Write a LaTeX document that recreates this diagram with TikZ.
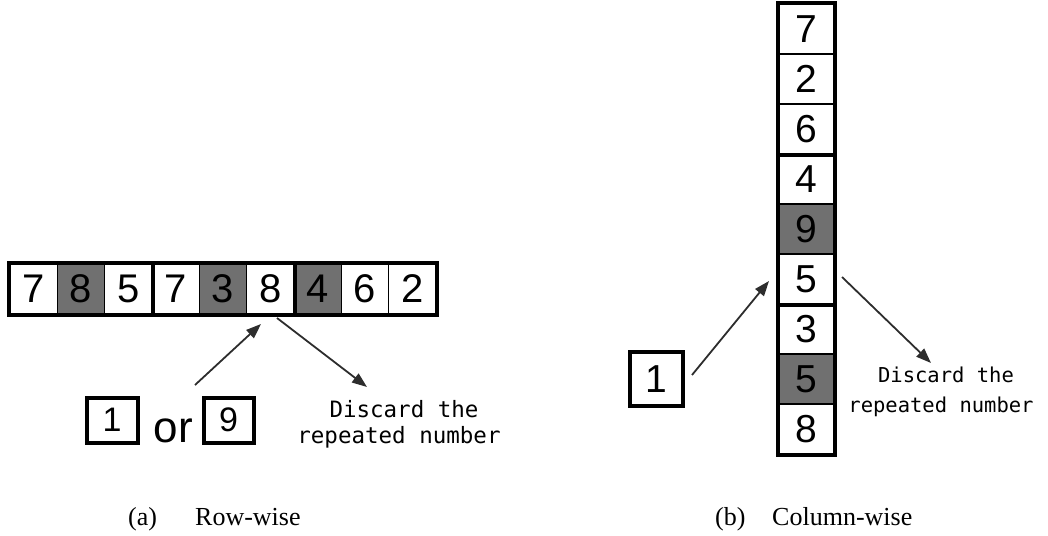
\documentclass[tikz,border=0pt]{standalone}
\usepackage{fontspec}
\setmainfont{Liberation Serif}
\newfontfamily\digitfont{Liberation Sans}
\newfontfamily\notefont{DejaVu Sans Mono}
\usetikzlibrary{arrows.meta}
\definecolor{cellgray}{RGB}{112,112,112}
\definecolor{arrowgray}{RGB}{45,45,45}

\tikzset{
  rowcell/.style={draw=black, line width=1.5pt, minimum width=47.33pt, minimum height=50pt,
    inner sep=0pt, fill=white, font=\digitfont\fontsize{40}{40}\selectfont},
  colcell/.style={draw=black, line width=1.5pt, minimum width=55pt, minimum height=50pt,
    inner sep=0pt, fill=white, font=\digitfont\fontsize{39}{39}\selectfont},
  shaded/.style={fill=cellgray},
  frame/.style={draw=black, line width=4pt},
  numbox/.style={draw=black, line width=4pt, inner sep=0pt, fill=white},
  pointer/.style={draw=arrowgray, line width=1.8pt,
    -{Triangle[length=15pt,width=11pt]}},
  notetext/.style={font=\notefont\fontsize{22.5}{22.5}\selectfont, anchor=base, inner sep=0pt},
  capt/.style={font=\fontsize{26}{26}\selectfont, anchor=base west, inner sep=0pt},
}

\begin{document}
\begin{tikzpicture}[x=1pt,y=-1pt]
\useasboundingbox (0,0) rectangle (1048,535);

% ---------- (a) row of nine cells ----------
\foreach \d/\s [count=\i] in {7/,8/shaded,5/,7/,3/shaded,8/,4/shaded,6/,2/} {
  \node[rowcell,\s] (r\i) at ({10+47.33*(\i-0.5)},289) {\d};
}
\draw[frame] (r1.north west) rectangle (r9.south east);
\draw[frame] (r3.north east) -- (r3.south east);
\draw[frame] (r6.north east) -- (r6.south east);

\node[numbox, minimum width=51pt, minimum height=45pt,
      font=\digitfont\fontsize{34}{34}\selectfont] (one) at (112,420) {1};
\node[font=\digitfont\fontsize{44}{44}\selectfont, anchor=base, inner sep=0pt]
      (or) at (173.5,442) {or};
\node[numbox, minimum width=50pt, minimum height=45pt,
      font=\digitfont\fontsize{34}{34}\selectfont] (nine) at (228.5,420) {9};

\coordinate (upA) at (195,385);
\coordinate (tipA) at (261,324);
\coordinate (startA) at (277,318);
\coordinate (endA) at (367,387);
\draw[pointer] (upA) -- (tipA);
\draw[pointer] (startA) -- (endA);

\node[notetext] (discA) at (404,417) {Discard the};
\node[notetext] (repA) at (399,443) {repeated number};

\node[capt] (capA) at (128,525) {(a)};
\node[capt] (capAt) at (195,525) {Row-wise};

% ---------- (b) column of nine cells ----------
\foreach \d/\s [count=\i] in {7/,2/,6/,4/,9/shaded,5/,3/,5/shaded,8/} {
  \node[colcell,\s] (c\i) at (806.5,{4+50*(\i-0.5)}) {\d};
}
\draw[frame] (c1.north west) rectangle (c9.south east);
\draw[frame] (c3.south west) -- (c3.south east);
\draw[frame] (c6.south west) -- (c6.south east);

\node[numbox, minimum width=53pt, minimum height=54pt,
      font=\digitfont\fontsize{39}{39}\selectfont] (oneB) at (656.5,379) {1};

\coordinate (tailB) at (692,375);
\coordinate (tipB) at (769,281);
\coordinate (startB) at (842,277);
\coordinate (endB) at (931,363);
\draw[pointer] (tailB) -- (tipB);
\draw[pointer] (startB) -- (endB);

\node[notetext, font=\notefont\fontsize{20.5}{20.5}\selectfont] (discB) at (946,382) {Discard the};
\node[notetext, font=\notefont\fontsize{20.5}{20.5}\selectfont] (repB) at (941,412) {repeated number};

\node[capt] (capB) at (715,525) {(b)};
\node[capt] (capBt) at (772,525) {Column-wise};
\end{tikzpicture}
\end{document}
